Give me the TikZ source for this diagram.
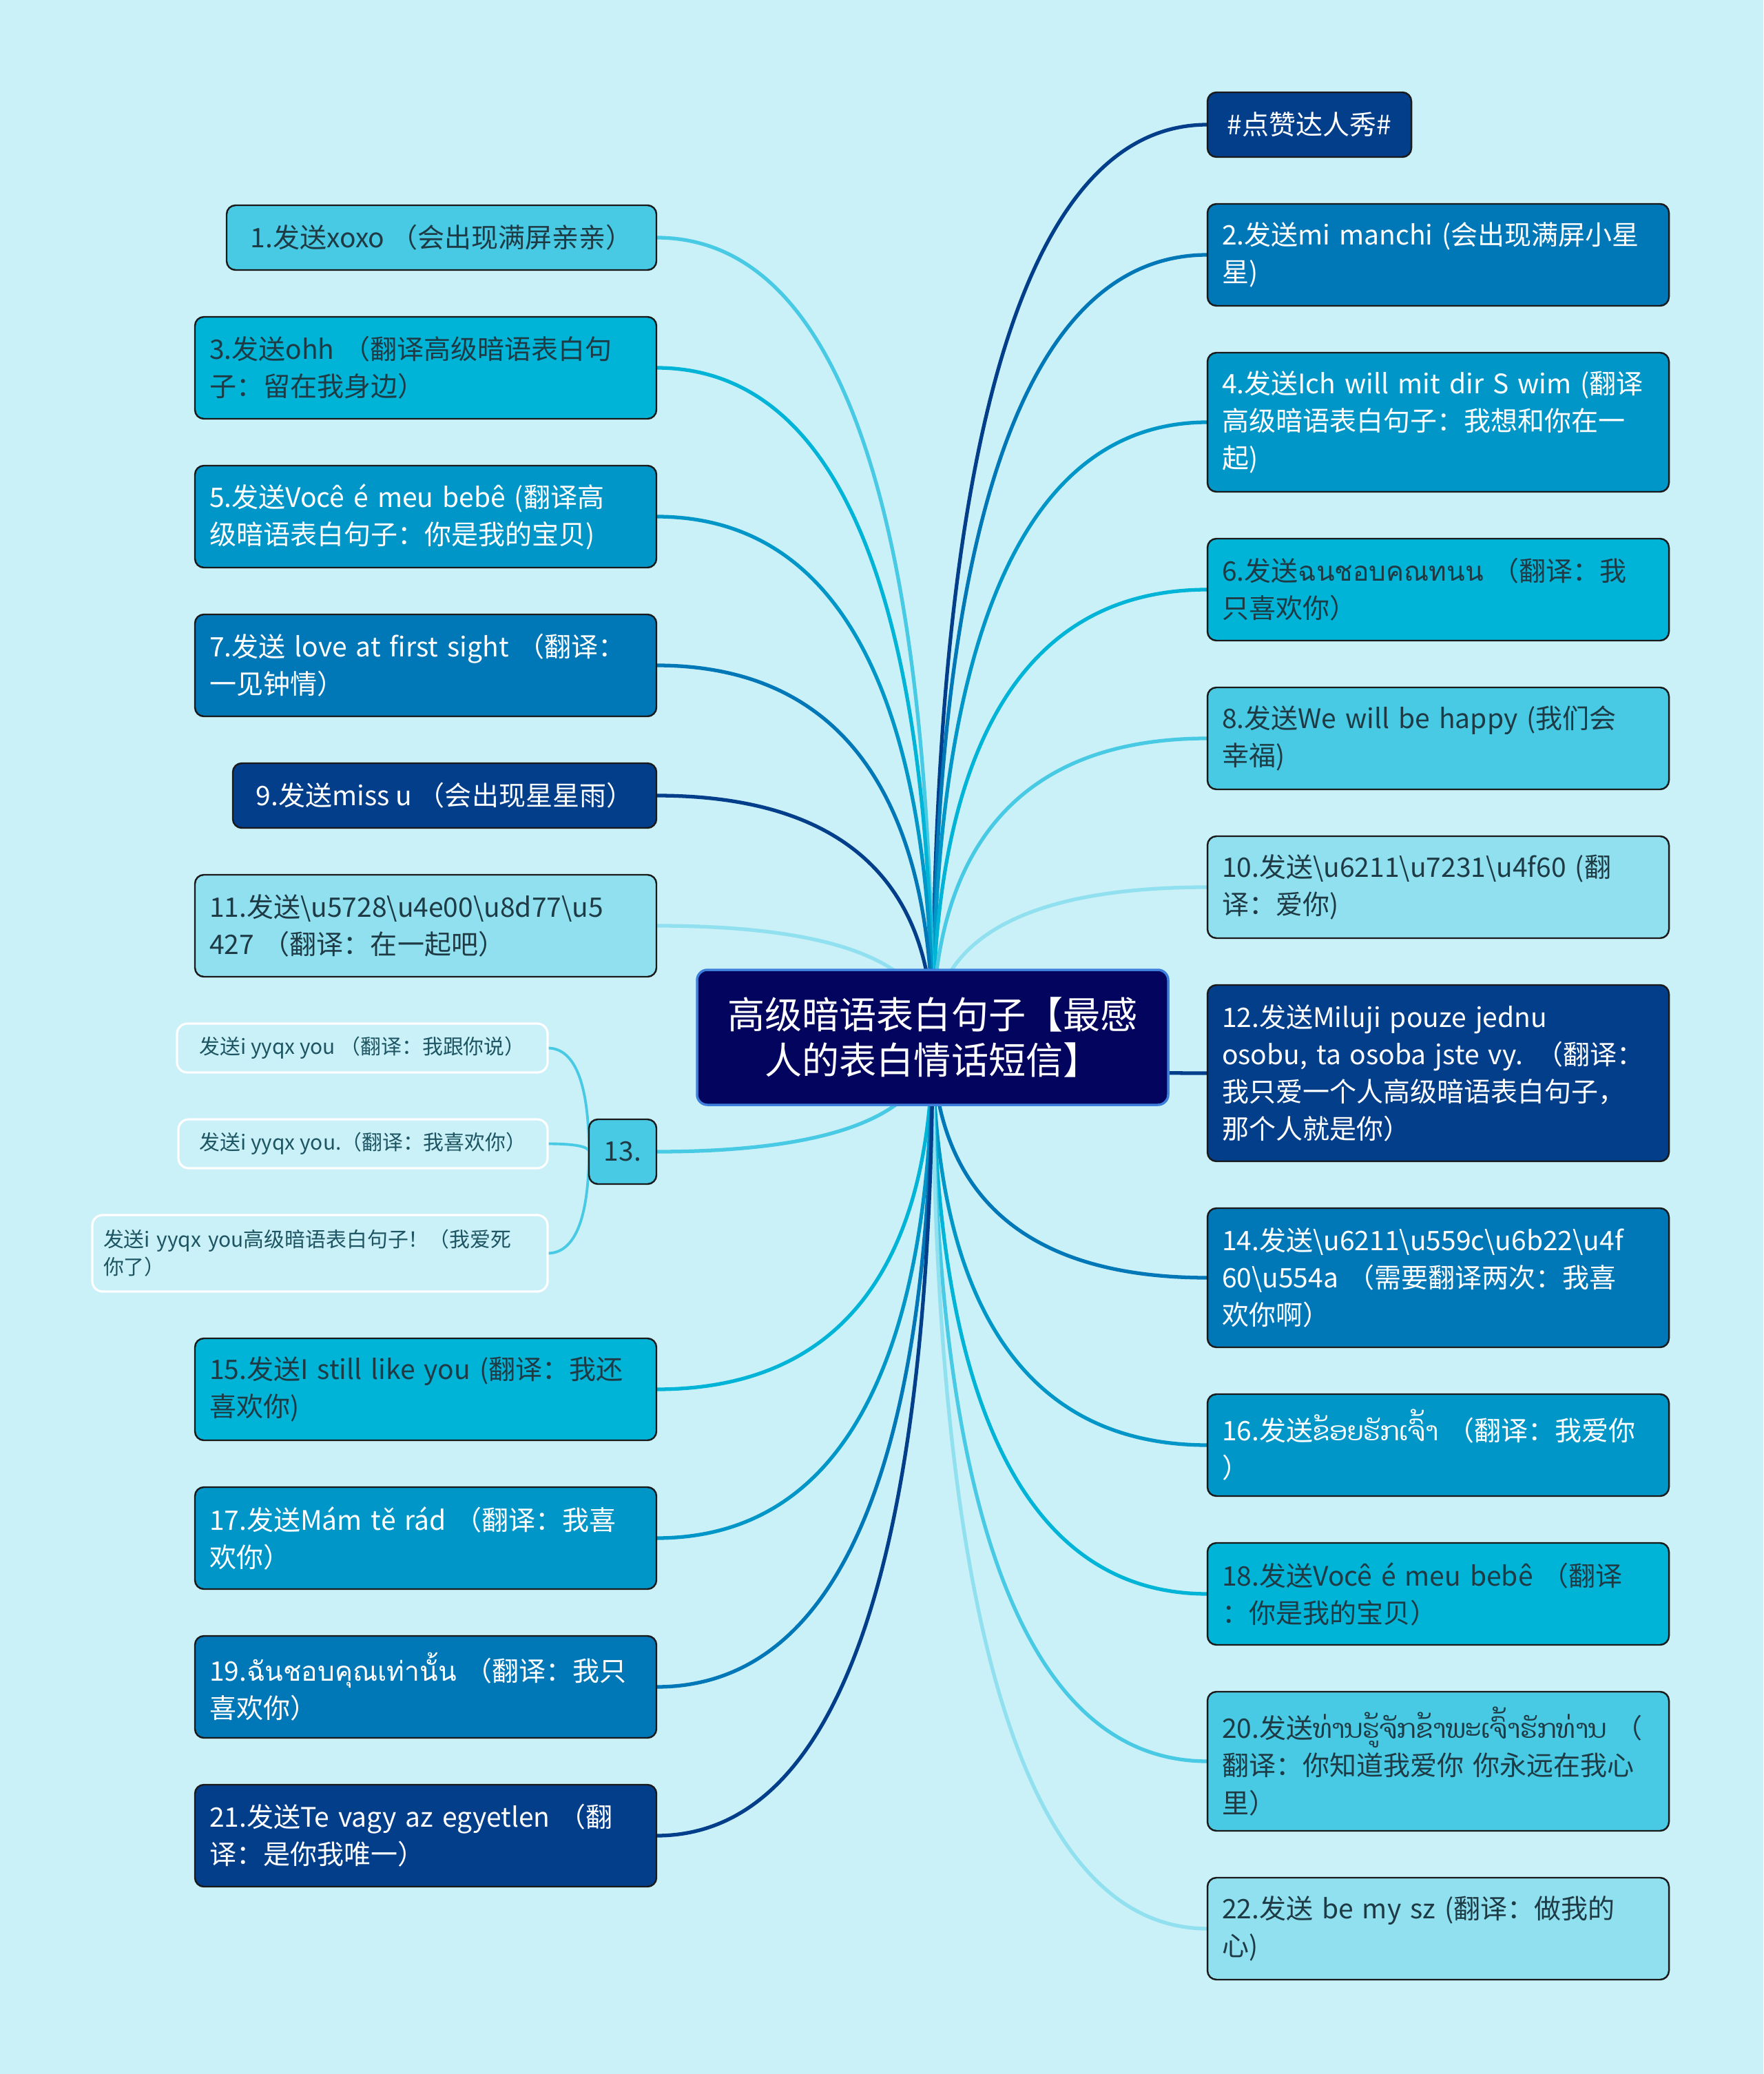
\documentclass[tikz,border=0pt]{standalone}
\usepackage{fontspec}
\setmainfont{Noto Sans CJK SC}
\newfontfamily\thaifont[Script=Thai]{Loma}
\newfontfamily\laofont[Script=Lao,Scale=0.96]{Dhyana}
\usepackage{xcolor}
\usepackage{tikz}
\usetikzlibrary{positioning,calc,backgrounds}
\definecolor{pagecyan}{HTML}{CAF0F8}
\definecolor{rootnavy}{HTML}{03045E}
\definecolor{rootrim}{HTML}{3D7FDB}
\definecolor{deepblue}{HTML}{023E8A}
\definecolor{oceanblue}{HTML}{0077B6}
\definecolor{midblue}{HTML}{0096C7}
\definecolor{cyanblue}{HTML}{00B4D8}
\definecolor{skyblue}{HTML}{48CAE4}
\definecolor{paleblue}{HTML}{90E0EF}
\definecolor{inkdark}{HTML}{1E3B45}
\definecolor{subink}{HTML}{1D5562}
\definecolor{rimdark}{HTML}{1A1A1A}
\newcommand\leaffont{\fontsize{11.1pt}{15.4pt}\selectfont}
\newcommand\rootfont{\fontsize{15.4pt}{19pt}\selectfont}
\newcommand\subfont{\fontsize{8.5pt}{11.4pt}\selectfont}
\newcommand\bkslash{\textbackslash}
\tikzset{
  leaf/.style={draw=rimdark, line width=0.7pt, rounded corners=0.13cm,
               font=\leaffont, inner xsep=0.21cm, inner ysep=0pt,
               outer sep=0pt, minimum height=0.94cm},
  wide/.style={text width=6.28cm, align=left},
  nlines/.style={minimum height={0.54cm*#1+0.4cm}},
  darktone/.style={fill=#1, text=white},
  lighttone/.style={fill=#1, text=inkdark},
  rdown/.style={below=of #1.south west, anchor=north west},
  ldown/.style={below=of #1.south east, anchor=north east},
  rootbox/.style={draw=rootrim, line width=1pt, fill=rootnavy, text=white,
                  rounded corners=0.15cm, font=\rootfont, align=center,
                  minimum width=6.84cm, minimum height=1.96cm},
  subleaf/.style={draw=white, line width=0.9pt, rounded corners=0.15cm,
                  font=\subfont, text=subink, inner xsep=0.16cm,
                  inner ysep=0pt, outer sep=0pt, minimum height=0.71cm},
  branch/.style={draw=#1, line width=1.5pt,
    to path={.. controls ($(\tikztostart)!0.5!(\tikztostart|-\tikztotarget)$)
      and ($(\tikztostart|-\tikztotarget)!0.2!(\tikztotarget)$) .. (\tikztotarget)}}
}
\begin{document}
\begin{tikzpicture}[node distance=0.68cm]
  \useasboundingbox (0,0) rectangle (25.6,-30.11);
  \node[rootbox] (root) at (13.54,-15.06) {高级暗语表白句子【最感\\人的表白情话短信】};

  \node[leaf, darktone=deepblue, minimum width=2.96cm, anchor=north west] (r0) at (17.53,-1.34) {\#点赞达人秀\#};
  \node[leaf, wide, nlines=2, darktone=oceanblue, rdown=r0] (r2) {2.发送mi manchi (会出现满屏小星\\星)};
  \node[leaf, wide, nlines=3, darktone=midblue, rdown=r2] (r4) {4.发送Ich will mit dir S wim (翻译\\高级暗语表白句子：我想和你在一\\起)};
  \node[leaf, wide, nlines=2, lighttone=cyanblue, rdown=r4] (r6) {6.发送{\thaifont ฉนชอบคณทนน} （翻译：我\\只喜欢你）};
  \node[leaf, wide, nlines=2, lighttone=skyblue, rdown=r6] (r8) {8.发送We will be happy (我们会\\幸福)};
  \node[leaf, wide, nlines=2, lighttone=paleblue, rdown=r8] (r10) {10.发送\bkslash u6211\bkslash u7231\bkslash u4f60 (翻\\译：爱你)};
  \node[leaf, wide, nlines=4, darktone=deepblue, rdown=r10] (r12) {12.发送Miluji pouze jednu\\osobu, ta osoba jste vy. （翻译：\\我只爱一个人高级暗语表白句子，\\那个人就是你）};
  \node[leaf, wide, nlines=3, darktone=oceanblue, rdown=r12] (r14) {14.发送\bkslash u6211\bkslash u559c\bkslash u6b22\bkslash u4f\\60\bkslash u554a （需要翻译两次：我喜\\欢你啊）};
  \node[leaf, wide, nlines=2, darktone=midblue, rdown=r14] (r16) {16.发送{\laofont ຂ້ອຍຮັກເຈົ້າ} （翻译：我爱你\\）};
  \node[leaf, wide, nlines=2, lighttone=cyanblue, rdown=r16] (r18) {18.发送Você é meu bebê （翻译\\：你是我的宝贝）};
  \node[leaf, wide, nlines=3, lighttone=skyblue, rdown=r18] (r20) {20.发送{\laofont ທ່ານຮູ້ຈັກຂ້າພະເຈົ້າຮັກທ່ານ}~（\\翻译：你知道我爱你 你永远在我心\\里）};
  \node[leaf, wide, nlines=2, lighttone=paleblue, rdown=r20] (r22) {22.发送 be my sz (翻译：做我的\\心)};

  \node[leaf, lighttone=skyblue, minimum width=6.24cm, anchor=north east] (l1) at (9.53,-2.98) {1.发送xoxo （会出现满屏亲亲）};
  \node[leaf, wide, nlines=2, lighttone=cyanblue, ldown=l1] (l3) {3.发送ohh （翻译高级暗语表白句\\子：留在我身边）};
  \node[leaf, wide, nlines=2, darktone=midblue, ldown=l3] (l5) {5.发送Você é meu bebê (翻译高\\级暗语表白句子：你是我的宝贝)};
  \node[leaf, wide, nlines=2, darktone=oceanblue, ldown=l5] (l7) {7.发送 love at first sight （翻译：\\一见钟情）};
  \node[leaf, darktone=deepblue, minimum width=6.15cm, ldown=l7] (l9) {9.发送miss u （会出现星星雨）};
  \node[leaf, wide, nlines=2, lighttone=paleblue, ldown=l9] (l11) {11.发送\bkslash u5728\bkslash u4e00\bkslash u8d77\bkslash u5\\427 （翻译：在一起吧）};
  \node[subleaf, minimum width=5.38cm, ldown=l11, xshift=-1.58cm] (s1) {发送i yyqx you （翻译：我跟你说）};
  \node[subleaf, minimum width=5.36cm, ldown=s1] (s2) {发送i yyqx you.（翻译：我喜欢你）};
  \node[subleaf, ldown=s2, text width=6.29cm, align=left, minimum height=1.11cm] (s3) {发送i yyqx you高级暗语表白句子！（我爱死\\你了）};
  \node[leaf, lighttone=skyblue, minimum width=0.98cm, anchor=north east] (n13) at (l11.south east|-s2.north) {13.};
  \node[leaf, wide, nlines=2, lighttone=cyanblue, ldown=s3, xshift=1.58cm] (l15) {15.发送I still like you (翻译：我还\\喜欢你)};
  \node[leaf, wide, nlines=2, darktone=midblue, ldown=l15] (l17) {17.发送Mám tě rád （翻译：我喜\\欢你）};
  \node[leaf, wide, nlines=2, darktone=oceanblue, ldown=l17] (l19) {19.{\thaifont ฉันชอบคุณเท่านั้น} （翻译：我只\\喜欢你）};
  \node[leaf, wide, nlines=2, darktone=deepblue, ldown=l19] (l21) {21.发送Te vagy az egyetlen （翻\\译：是你我唯一）};

  \begin{scope}[on background layer]
    \fill[pagecyan] (0,0) rectangle (25.6,-30.11);
    \draw[branch=deepblue] (root.center) to (r0.west); \draw[branch=oceanblue] (root.center) to (r2.west);
    \draw[branch=midblue] (root.center) to (r4.west); \draw[branch=cyanblue] (root.center) to (r6.west);
    \draw[branch=skyblue] (root.center) to (r8.west); \draw[branch=paleblue] (root.center) to (r10.west);
    \draw[branch=deepblue] (root.center) to (r12.west); \draw[branch=oceanblue] (root.center) to (r14.west);
    \draw[branch=midblue] (root.center) to (r16.west); \draw[branch=cyanblue] (root.center) to (r18.west);
    \draw[branch=skyblue] (root.center) to (r20.west); \draw[branch=paleblue] (root.center) to (r22.west);
    \draw[branch=skyblue] (root.center) to (l1.east); \draw[branch=cyanblue] (root.center) to (l3.east);
    \draw[branch=midblue] (root.center) to (l5.east); \draw[branch=oceanblue] (root.center) to (l7.east);
    \draw[branch=deepblue] (root.center) to (l9.east); \draw[branch=paleblue] (root.center) to (l11.east);
    \draw[branch=skyblue] (root.center) to (n13.east); \draw[branch=cyanblue] (root.center) to (l15.east);
    \draw[branch=midblue] (root.center) to (l17.east); \draw[branch=oceanblue] (root.center) to (l19.east);
    \draw[branch=deepblue] (root.center) to (l21.east);
    \draw[branch=skyblue, line width=1.1pt] (n13.west) to (s1.east);
    \draw[branch=skyblue, line width=1.1pt] (n13.west) to (s2.east);
    \draw[branch=skyblue, line width=1.1pt] (n13.west) to (s3.east);
  \end{scope}
\end{tikzpicture}
\end{document}
